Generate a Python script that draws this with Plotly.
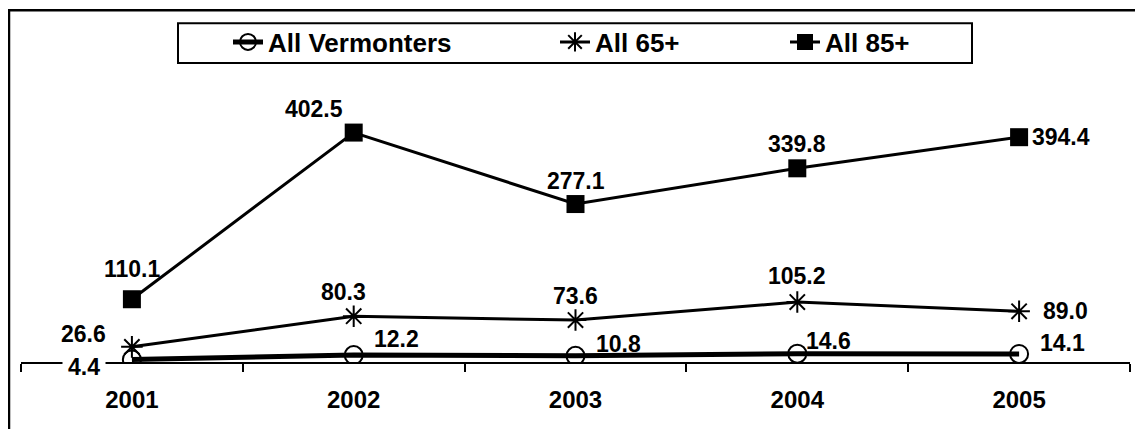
import plotly.graph_objects as go

# ---- data ----
years = ["2001", "2002", "2003", "2004", "2005"]
all_vermonters = [4.4, 12.2, 10.8, 14.6, 14.1]
all_65_plus = [26.6, 80.3, 73.6, 105.2, 89.0]
all_85_plus = [110.1, 402.5, 277.1, 339.8, 394.4]
series_names = ["All Vermonters", "All 65+", "All 85+"]

# ---- styling (label offsets in px, relative to each point) ----
off_verm = [(-48, -8), (43, 16), (43, 12), (31, 13), (43, 11)]
off_65 = [(-48, 13), (-10, 24), (0, 24), (0, 26), (46, 0)]
off_85 = [(0, 30), (-40, 24), (0, 23), (0, 24), (42, 0)]
# label background: only the first label sits on the axis line and masks it
CLEAR = "rgba(0,0,0,0)"
bg_verm = ["white", CLEAR, CLEAR, CLEAR, CLEAR]
bg_65 = [CLEAR] * 5
bg_85 = [CLEAR] * 5

FONT = "Liberation Sans, Arial, sans-serif"

# plot area in reference pixels: x 21..1130, y 76..362
PX0, PX1, PY0, PY1 = 21.0, 1130.0, 76.0, 362.0
def pxx(v):
    return (v - PX0) / (PX1 - PX0)
def pxy(v):
    return (PY1 - v) / (PY1 - PY0)

fig = go.Figure()
fig.add_trace(go.Scatter(
    x=years, y=all_vermonters, name=series_names[0], mode="lines+markers",
    line=dict(color="black", width=5),
    marker=dict(symbol="circle-open", size=18, color="black", line=dict(width=2, color="black")),
    legendwidth=282,
))
fig.add_trace(go.Scatter(
    x=years, y=all_65_plus, name=series_names[1], mode="lines+markers",
    line=dict(color="black", width=3),
    marker=dict(symbol="asterisk-open", size=18, color="black", line=dict(width=2, color="black")),
    legendwidth=185,
))
fig.add_trace(go.Scatter(
    x=years, y=all_85_plus, name=series_names[2], mode="lines+markers",
    line=dict(color="black", width=3),
    marker=dict(symbol="square", size=18, color="black"),
    legendwidth=130,
))

ann = []
for vals, offs, bgs in ((all_vermonters, off_verm, bg_verm),
                        (all_65_plus, off_65, bg_65),
                        (all_85_plus, off_85, bg_85)):
    for i, (v, (dx, dy), bg) in enumerate(zip(vals, offs, bgs)):
        ann.append(dict(
            x=i, y=v, xref="x", yref="y", text=f"{v:.1f}", showarrow=False,
            xanchor="center", yanchor="middle", xshift=dx, yshift=dy,
            bgcolor=bg, borderpad=5,
            font=dict(family=FONT, size=23, color="black", weight="bold"),
        ))

fig.update_layout(
    width=1143, height=429,
    margin=dict(l=13, r=21, t=68, b=75),
    paper_bgcolor="white", plot_bgcolor="white",
    font=dict(family=FONT, color="black"),
    showlegend=True,
    legend=dict(
        orientation="h", x=pxx(228), y=pxy(42), xanchor="left", yanchor="middle",
        bgcolor="rgba(0,0,0,0)", borderwidth=0,
        font=dict(family=FONT, size=26, color="black", weight="bold"),
        itemwidth=30,
    ),
    annotations=ann,
    shapes=[
        dict(type="rect", xref="paper", yref="paper",
             x0=pxx(9), x1=pxx(1150), y0=pxy(440), y1=pxy(9),
             line=dict(color="black", width=2.5), fillcolor="rgba(0,0,0,0)", layer="below"),
        dict(type="rect", xref="paper", yref="paper",
             x0=pxx(178), x1=pxx(972), y0=pxy(62), y1=pxy(22),
             line=dict(color="black", width=2), fillcolor="white", layer="below"),
    ],
)
fig.update_xaxes(
    type="category", range=[-0.5, 4.5], showgrid=False, zeroline=False,
    showline=True, linecolor="black", linewidth=2,
    ticks="outside", tickson="boundaries", ticklen=8, tickcolor="black", tickwidth=2,
    ticklabelstandoff=15,
    tickfont=dict(family=FONT, size=24, color="black", weight="bold"),
)
fig.update_yaxes(range=[0, 500], showgrid=False, zeroline=False, showline=False,
                 showticklabels=False, ticks="")

fig.write_html("out.html")
